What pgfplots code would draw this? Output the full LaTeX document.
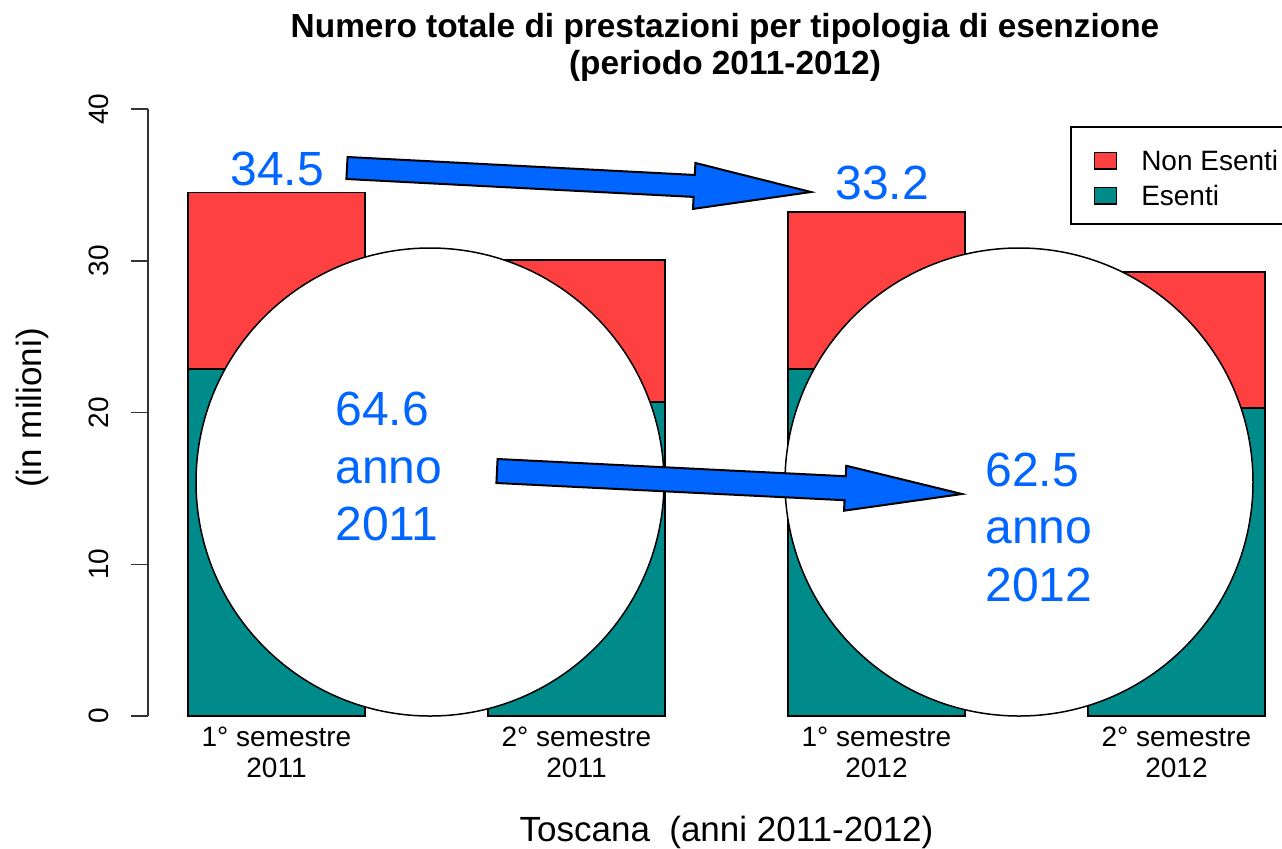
\documentclass[border=0pt]{standalone}
\usepackage{pgfplots}
\pgfplotsset{compat=1.18}
\usepackage{fontspec}
\setmainfont{Liberation Sans}
\definecolor{nonesenti}{HTML}{FF4040}
\definecolor{esenti}{HTML}{008B8B}
\definecolor{pblue}{HTML}{0066FF}
\definecolor{axgray}{HTML}{333333}

\begin{document}
\begin{tikzpicture}
\begin{axis}[
  x=150pt, y=7.5875pt,
  anchor=south west, at={(74pt,-358pt)},
  xmin=-0.42833, xmax=3.35167, ymin=0, ymax=40,
  enlargelimits=false,
  clip=false,
  ybar stacked, bar width=88.5pt,
  axis lines*=left,
  x axis line style={draw=none},
  y axis line style={draw=axgray, line width=0.75pt},
  xtick style={draw=none},
  tick align=outside,
  major tick length=8.5pt,
  ytick={0,10,20,30,40},
  ytick style={draw=axgray, line width=0.75pt},
  /pgf/number format/assume math mode=true,
  yticklabel style={rotate=90, anchor=base, inner sep=0pt, font=\fontsize{14}{16}\selectfont},
  yticklabel shift=11pt,
  xtick={0,1,2,3},
  xticklabels={{1° semestre\\2011},{2° semestre\\2011},{1° semestre\\2012},{2° semestre\\2012}},
  xticklabel style={align=center, anchor=north, inner sep=0pt, font=\fontsize{14}{15.5}\selectfont},
  xticklabel shift=-3pt,
  xlabel={Toscana\ \ (anni 2011-2012)},
  xlabel style={at={(axis cs:1.5,-8.3)}, anchor=base, inner sep=0pt, font=\fontsize{17.5}{20}\selectfont},
  ylabel={(in milioni)},
  ylabel style={at={(axis cs:-0.7817,20.3)}, anchor=base, inner sep=0pt, font=\fontsize{17.5}{20}\selectfont},
  title={Numero totale di prestazioni per tipologia di esenzione\\(periodo 2011-2012)},
  title style={at={(axis cs:1.495,45.54)}, anchor=north, align=center, inner sep=0pt, font=\bfseries\fontsize{16.7}{18.5}\selectfont},
  legend style={at={(axis cs:2.645,38.88)}, anchor=north west, draw=black, line width=0.75pt,
    inner xsep=11.5pt, inner ysep=9pt, row sep=4.5pt, column sep=12pt,
    font=\fontsize{14}{16}\selectfont,
    nodes={inner sep=0pt, text height=13pt, text depth=0pt}},
  legend cell align=left,
  legend image code/.code={\draw[#1, line width=0.75pt] (0pt,-5.7pt) rectangle (11pt,2.7pt);},
  reverse legend,
]
\addplot[fill=esenti, draw=black, line width=0.75pt] coordinates {(0,22.87) (1,20.70) (2,22.87) (3,20.30)};
\addlegendentry{Esenti}
\addplot[fill=nonesenti, draw=black, line width=0.75pt] coordinates {(0,11.63) (1,9.35) (2,10.33) (3,8.96)};
\addlegendentry{Non Esenti}
\end{axis}
\begin{scope}[x=0.5pt,y=-0.5pt]
\draw[fill=white, line width=0.75pt] (430,482) circle[radius=234];
\draw[fill=white, line width=0.75pt] (1019,482) circle[radius=234];
\draw[fill=pblue, line width=1pt, line join=miter] (347.6,157.0) -- (694.8,174.96) -- (695.4,162.97) -- (811,192) -- (693.0,208.9) -- (693.6,196.9) -- (346.4,179.0) -- cycle;
\draw[fill=pblue, line width=1pt, line join=miter] (497.59,459.01) -- (845.73,476.23) -- (846.25,465.75) -- (962,494) -- (844.03,510.69) -- (844.55,500.21) -- (496.41,482.99) -- cycle;
\begin{scope}[every node/.style={anchor=base west, inner sep=0pt, text=pblue, font=\fontsize{24}{28}\selectfont}]
\node at (230,185) {34.5};
\node at (835,199) {33.2};
\node at (335,425) {64.6};
\node at (335,483) {anno};
\node at (335,540) {2011};
\node at (985,486) {62.5};
\node at (985,543) {anno};
\node at (985,601) {2012};
\end{scope}
\end{scope}
\pgfresetboundingbox
\path[use as bounding box] (0,0) rectangle (641pt,-424pt);
\end{tikzpicture}
\end{document}
